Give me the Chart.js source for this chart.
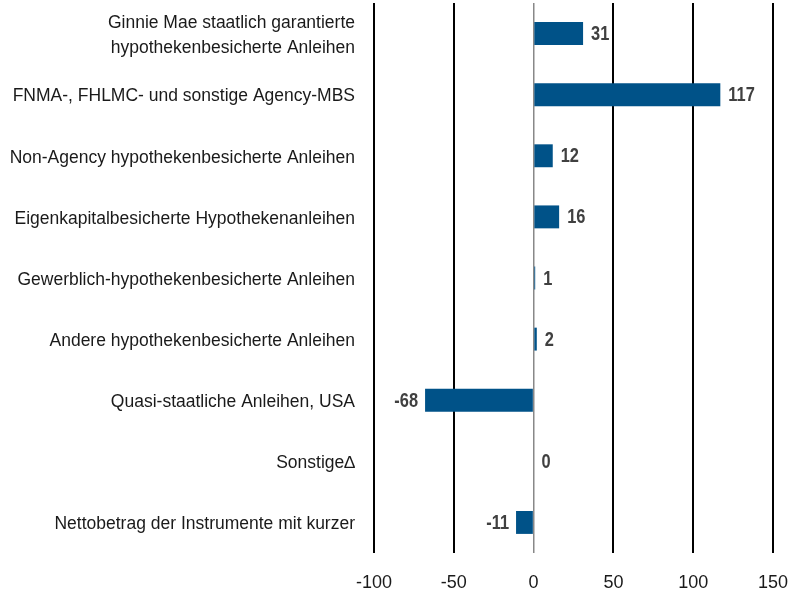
<!DOCTYPE html>
<html><head><meta charset="utf-8">
<script src="https://cdn.jsdelivr.net/npm/chart.js@4.4.0/dist/chart.umd.min.js"></script>
<style>html,body{margin:0;padding:0;background:#fff}#wrap{width:805px;height:594px}</style>
</head><body><div id="wrap"><canvas id="c" width="805" height="594"></canvas></div>
<script>
const categories = [
  ["Ginnie Mae staatlich garantierte","hypothekenbesicherte Anleihen"],
  "FNMA-, FHLMC- und sonstige Agency-MBS",
  "Non-Agency hypothekenbesicherte Anleihen",
  "Eigenkapitalbesicherte Hypothekenanleihen",
  "Gewerblich-hypothekenbesicherte Anleihen",
  "Andere hypothekenbesicherte Anleihen",
  "Quasi-staatliche Anleihen, USA",
  "Sonstige\u2206",
  "Nettobetrag der Instrumente mit kurzer"
];
const values = [31, 117, 12, 16, 1, 2, -68, 0, -11];
const xTicks = [-100, -50, 0, 50, 100, 150];

const labelPlugin = {
  id: 'vlabels',
  afterDatasetsDraw(chart) {
    const ctx = chart.ctx;
    const meta = chart.getDatasetMeta(0);
    const sx = 0.82;
    meta.data.forEach((bar, i) => {
      const v = values[i];
      ctx.save();
      ctx.font = "bold 20px 'Liberation Sans', Arial, sans-serif";
      ctx.fillStyle = '#404040';
      ctx.textBaseline = 'middle';
      if (v < 0) { ctx.translate(bar.x - 7, bar.y + 1); ctx.scale(sx, 1); ctx.textAlign = 'right'; }
      else { ctx.translate(bar.x + 8, bar.y + 1); ctx.scale(sx, 1); ctx.textAlign = 'left'; }
      ctx.fillText(String(v), 0, 0);
      ctx.restore();
    });
  }
};

new Chart(document.getElementById('c'), {
  type: 'bar',
  data: { labels: categories, datasets: [{ data: values, backgroundColor: '#005288', borderWidth: 0, barPercentage: 0.75, categoryPercentage: 0.5 }] },
  options: {
    indexAxis: 'y', responsive: false, animation: false,
    layout: { padding: { top: 3, right: 32, left: 0, bottom: 0 } },
    plugins: { legend: { display: false }, tooltip: { enabled: false } },
    scales: {
      x: {
        min: -100, max: 150,
        afterBuildTicks(s) { s.ticks = xTicks.map(v => ({ value: v })); },
        afterFit(s) { s.height = 41; s.paddingLeft = 0; s.paddingRight = 0; },
        grid: { drawTicks: false, color: c => c.tick && c.tick.value === 0 ? '#888' : '#000', lineWidth: c => c.tick && c.tick.value === 0 ? 1.5 : 2 },
        border: { display: false },
        ticks: { padding: 19, color: '#1a1a1a', font: { family: "'Liberation Sans', Arial, sans-serif", size: 18 } }
      },
      y: {
        afterFit(s) { s.width = 374; s.paddingTop = 0; s.paddingBottom = 0; },
        grid: { display: false, drawTicks: false },
        border: { display: false },
        ticks: { padding: 19, labelOffset: 2, color: '#1a1a1a', font: { family: "'Liberation Sans', Arial, sans-serif", size: 17.5, lineHeight: 1.42 } }
      }
    }
  },
  plugins: [labelPlugin]
});
</script></body></html>
